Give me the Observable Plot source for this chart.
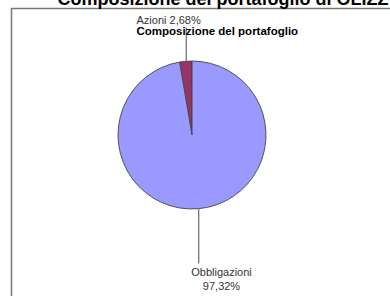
<!DOCTYPE html>
<html>
<head>
<meta charset="utf-8">
<script src="https://cdn.jsdelivr.net/npm/d3@7"></script>
<script src="https://cdn.jsdelivr.net/npm/@observablehq/plot@0.6"></script>
<style>
  html, body { margin: 0; padding: 0; background: #fff; }
  body { width: 390px; height: 296px; overflow: hidden; font-family: "Liberation Sans", Arial, sans-serif; }
</style>
</head>
<body>
<div id="chart"></div>
<script>
const categories = ["Azioni", "Obbligazioni"];
const values = [2.68, 97.32];
const valueLabels = ["2,68%", "97,32%"];
const colors = ["#993366", "#9999ff"];
const titleText = "Composizione del portafoglio di OLIZZ";
const subtitleText = "Composizione del portafoglio";

// Pie geometry in data units (scales are pixel-identity)
const cx = 192, cy = 135, r = 74;
const startAngle = -2 * Math.PI * values[0] / 100;
const pie = d3.pie().sort(null).value(d => d.value).startAngle(startAngle).endAngle(startAngle + 2 * Math.PI);
const arcs = pie(categories.map((c, i) => ({category: c, value: values[i], color: colors[i]})));

function pieMark() {
  return (index, scales, values_, dimensions, context) => {
    const g = d3.create("svg:g");
    const x0 = scales.x(cx), y0 = scales.y(cy);
    const rad = scales.x(cx + r) - scales.x(cx);
    const arcGen = d3.arc().innerRadius(0).outerRadius(rad);
    g.attr("transform", `translate(${x0},${y0})`)
      .selectAll("path")
      .data(arcs)
      .join("path")
      .attr("d", arcGen)
      .attr("fill", d => d.data.color)
      .attr("stroke", "#444")
      .attr("stroke-width", 0.9)
      .attr("stroke-linejoin", "round");
    return g.node();
  };
}

const mid = a => (a.startAngle + a.endAngle) / 2;
const leaders = [
  {x1: cx + r * Math.sin(mid(arcs[0])), y1: cy - r * Math.cos(mid(arcs[0])), x2: cx + r * Math.sin(mid(arcs[0])), y2: 27},
  {x1: cx + r * Math.sin(mid(arcs[1])), y1: cy - r * Math.cos(mid(arcs[1])), x2: cx + r * Math.sin(mid(arcs[1])), y2: 263}
];

const chart = Plot.plot({
  width: 390,
  height: 296,
  margin: 0,
  x: {domain: [0, 390], range: [0, 390], axis: null},
  y: {domain: [0, 296], range: [0, 296], axis: null},
  style: {fontFamily: "'Liberation Sans', Arial, sans-serif", overflow: "visible"},
  marks: [
    Plot.ruleY([8], {x1: 11, x2: 390, stroke: "#777", strokeWidth: 1.5}),
    Plot.ruleX([11], {y1: 8, y2: 296, stroke: "#777", strokeWidth: 1.5}),
    Plot.text([titleText], {x: 57, y: 4, text: d => d, textAnchor: "start", lineAnchor: "bottom", fontSize: 18, fontWeight: "bold", fill: "#000"}),
    pieMark(),
    Plot.link(leaders, {x1: "x1", y1: "y1", x2: "x2", y2: "y2", stroke: "#666", strokeWidth: 1.2}),
    Plot.text([categories[0] + " " + valueLabels[0]], {x: 136, y: 23, text: d => d, textAnchor: "start", lineAnchor: "bottom", fontSize: 11, fill: "#333"}),
    Plot.text([subtitleText], {x: 136, y: 34, text: d => d, textAnchor: "start", lineAnchor: "bottom", fontSize: 11.5, fontWeight: "bold", fill: "#000"}),
    Plot.text([categories[1] + "\n" + valueLabels[1]], {x: 221, y: 266, text: d => d, textAnchor: "middle", lineAnchor: "top", fontSize: 11, lineHeight: 1.25, fill: "#333"})
  ]
});
document.getElementById("chart").appendChild(chart);
</script>
</body>
</html>
